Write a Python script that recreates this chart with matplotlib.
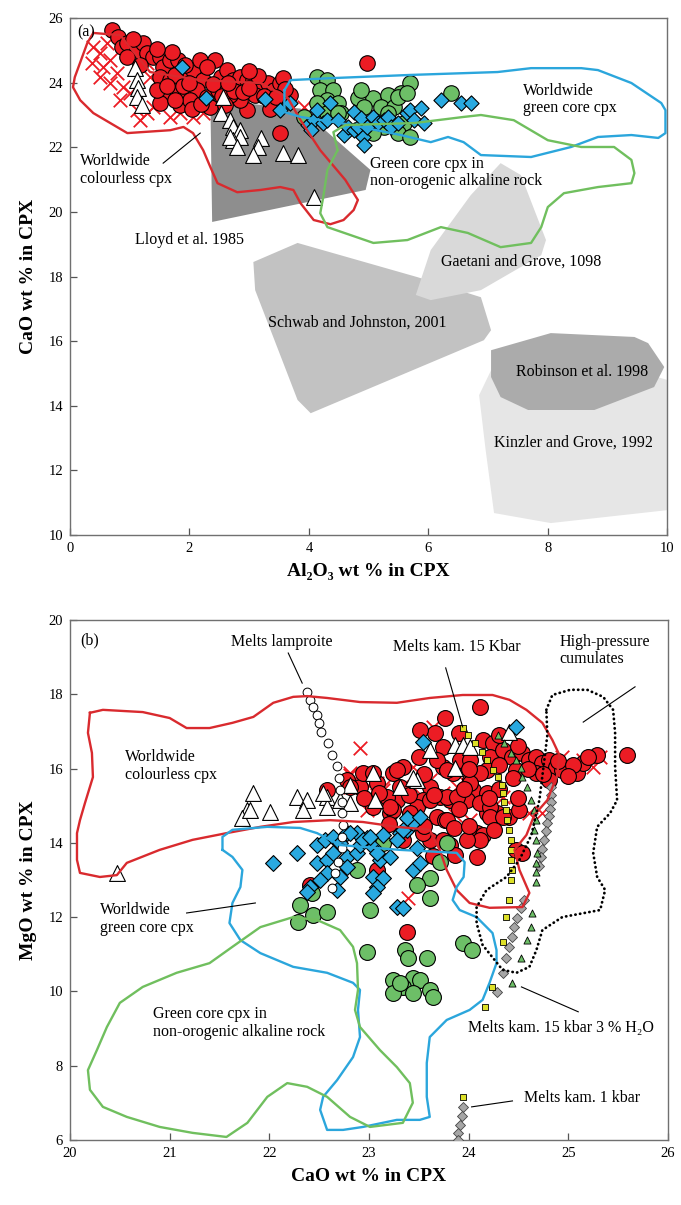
import matplotlib
matplotlib.use("Agg")
import matplotlib.pyplot as plt
import numpy as np

plt.rcParams['font.family'] = ['Liberation Serif', 'DejaVu Serif']
plt.rcParams['mathtext.fontset'] = 'stix'

# ---------------- Panel (a) data: Al2O3 (x) vs CaO (y) ----------------
a_red_x = [0.70,0.81,0.87,0.96,1.12,0.96,1.22,1.29,1.39,1.51,1.56,1.68,1.80,1.51,1.68,1.56,1.51,1.80,1.96,2.06,
           2.18,2.23,2.13,2.30,2.47,2.52,2.63,2.73,2.85,2.97,3.07,3.19,3.31,3.41,3.52,3.41,2.97,2.85,2.35,1.85,
           2.01,1.46,3.52,4.98,3.57,3.69,1.17,1.93,2.43,2.68,3.10,1.76,
           1.62,1.75,1.90,2.05,2.20,2.40,2.55,2.60,2.75,2.90,3.00,3.15,3.25,3.35,3.00,2.30,1.70,1.45,1.05,2.00,
           2.65,3.60,3.45]
a_red_y = [25.63,25.41,25.10,25.23,25.01,24.79,25.23,24.92,24.79,24.79,24.48,24.70,24.70,24.17,24.08,23.55,23.37,23.68,24.17,24.39,
           24.70,24.08,23.77,23.55,23.77,24.17,24.39,24.08,24.17,24.08,24.08,23.86,23.99,23.77,23.99,23.37,23.15,23.46,23.25,23.31,
           23.46,23.77,22.44,24.61,24.14,23.62,24.55,24.55,24.70,23.62,23.62,24.23,
           23.90,23.45,23.90,23.20,23.35,23.95,23.60,23.30,23.75,23.70,23.85,24.20,23.60,23.20,24.35,24.50,24.95,25.05,25.35,24.00,
           24.00,23.80,23.55]

a_cross_x = [0.39,0.50,0.37,0.55,0.67,0.79,0.50,0.67,0.89,1.01,0.84,1.12,1.29,1.39,1.17,1.68,1.85,2.06,2.23,3.91,
             2.97,1.29,1.34,0.62]
a_cross_y = [25.10,24.92,24.61,24.48,24.70,24.30,24.17,23.99,23.86,23.68,23.46,23.15,23.06,23.25,22.84,22.94,23.06,22.94,23.06,23.25,
             23.37,24.61,24.17,25.23]

a_tri_x = [1.09,1.12,1.14,1.12,1.21,2.57,2.52,2.68,2.73,2.85,2.85,2.73,2.68,2.80,3.19,3.15,3.07,3.57,3.81,4.08]
a_tri_y = [24.45,24.08,23.83,23.55,23.31,23.55,23.06,22.84,22.63,22.53,22.32,22.22,22.32,22.01,22.29,22.01,21.76,21.82,21.76,20.46]

a_dia_x = [1.88,2.27,3.27,3.69,3.52,3.98,4.08,4.14,4.24,4.03,4.31,4.48,4.58,4.65,4.75,4.75,4.82,4.87,4.90,4.92,
           4.98,5.08,5.15,5.25,5.32,5.37,5.49,5.65,5.70,5.76,5.87,5.92,6.21,6.54,6.71,4.36]
a_dia_y = [24.48,23.52,23.49,23.37,23.15,22.69,22.84,23.15,22.75,22.53,22.84,22.84,22.38,22.63,23.09,22.53,22.63,22.91,22.32,22.07,
           22.63,22.94,22.75,22.84,22.94,22.63,22.75,23.06,23.15,22.84,23.21,22.75,23.46,23.37,23.37,23.37]

a_grn_x = [4.14,4.31,4.19,4.41,4.31,4.14,4.48,4.31,4.53,3.91,4.82,5.08,5.32,5.20,5.42,5.70,5.54,4.92,5.49,5.65,
           5.32,5.59,5.25,5.49,5.70,5.08,6.38,4.48,4.87]
a_grn_y = [24.17,24.08,23.77,23.77,23.46,23.37,23.37,23.06,23.06,22.94,23.52,23.52,23.62,23.25,23.25,23.99,23.68,23.25,23.55,23.68,
           23.06,22.75,22.63,22.44,22.32,22.44,23.68,23.06,23.77]

# experimental fields (panel a)
lloyd_x = [2.35,3.86,5.03,4.95,2.38]
lloyd_y = [23.46,23.20,21.30,20.68,19.69]
gaetani_x = [5.79,6.04,6.71,7.21,7.55,7.97,7.89,6.88,6.04]
gaetani_y = [17.43,18.82,20.52,21.51,21.14,19.13,18.66,17.58,17.27]
schwab_x = [3.07,3.81,5.82,6.88,7.05,6.93,4.03,3.81,3.10]
schwab_y = [18.45,19.04,17.98,17.36,16.34,16.03,13.77,14.18,17.58]
kinzler_x = [6.85,7.05,8.89,10.0,10.0,8.05,7.10,6.96]
kinzler_y = [14.33,15.10,15.40,14.80,10.77,10.37,10.68,12.62]
robinson_x = [7.05,8.05,9.45,9.68,9.95,9.78,8.78,7.67,7.21,7.05]
robinson_y = [15.72,16.25,16.13,15.94,15.20,14.58,13.87,13.87,14.27,14.89]

# outlines (panel a)
a_redline_x = [0.39,0.84,1.34,2.18,3.19,3.64,3.86,4.19,4.61,4.82,4.75,4.58,4.36,4.08,3.86,3.74,3.52,3.19,2.80,2.47,
               2.35,2.23,2.06,1.90,1.68,0.96,0.39,0.17,0.05,0.08,0.29]
a_redline_y = [25.54,25.47,24.33,24.08,23.99,23.55,22.84,21.91,20.99,20.37,20.06,19.75,19.62,19.75,20.27,20.68,20.77,20.68,20.61,20.89,
               21.39,21.91,22.44,22.63,22.53,22.44,23.06,23.46,23.86,24.17,25.23]
a_blueline_x = [3.59,3.69,4.36,5.70,7.16,7.72,8.56,8.84,9.40,9.90,9.97,9.97,9.85,9.40,8.84,8.39,7.72,6.88,6.59,6.33,
                6.04,5.54,4.53,3.86,3.59]
a_blueline_y = [23.77,24.08,24.14,24.24,24.33,24.45,24.45,24.39,23.99,23.37,23.15,22.44,22.29,22.38,22.32,22.01,21.70,21.76,22.16,22.32,
                22.16,22.38,22.75,22.94,23.09]
a_greenline_x = [4.48,4.41,4.61,5.76,6.59,6.88,7.43,8.00,8.56,9.11,9.40,9.45,9.40,8.84,8.27,8.00,7.89,7.72,7.21,6.66,
                 6.21,5.65,5.08,4.31,4.19,4.24,4.31]
a_greenline_y = [21.91,22.47,22.69,22.75,22.94,23.00,22.84,22.22,22.01,22.01,21.61,21.20,20.89,20.77,20.58,20.15,19.53,19.04,18.91,19.35,
                 19.53,19.13,19.04,19.53,19.96,20.46,21.30]

# ---------------- Panel (b) data: CaO (x) vs MgO (y) ----------------
b_red_x = [24.11,23.76,23.66,23.51,23.74,24.14,24.24,24.21,24.34,24.44,24.54,24.61,24.68,24.74,24.81,24.88,24.94,25.09,25.15,25.29,
           25.59,24.18,24.48,24.68,24.81,23.74,23.84,24.01,24.04,24.18,24.18,24.28,24.41,24.51,23.98,23.81,23.71,23.61,23.54,23.48,
           23.28,23.31,23.24,23.21,23.44,23.68,23.76,23.61,23.54,24.08,24.14,24.48,24.54,24.08,23.74,23.81,23.34,23.04,23.08,22.78,
           22.91,22.94,23.68,23.78,23.91,24.01,24.11,24.01,23.78,23.88,24.11,24.21,23.61,23.78,23.41,23.24,23.18,24.21,24.34,24.11,
           23.98,23.38,23.04,23.28,22.58,22.81,23.21,23.08,23.34,22.41,23.64,23.86,
           24.30,24.60,24.90,25.05,24.75,24.45,24.00,23.55,23.95,23.65,23.40,23.10,24.30,24.50,24.20,23.90,23.55,23.85,24.00,24.25,
           23.20,22.95,23.50,24.50,24.30,23.90,25.20,25.00]
b_red_y = [17.66,17.36,16.96,17.04,16.58,16.77,16.69,16.31,16.50,16.31,16.42,16.23,16.31,16.15,16.23,16.04,15.96,15.88,16.15,16.37,
           16.37,15.96,15.96,15.88,15.69,16.04,15.88,15.69,15.42,15.34,14.80,14.80,14.70,14.88,15.15,15.15,15.23,15.50,15.15,14.96,
           15.15,15.50,15.88,14.80,14.61,14.70,14.61,14.08,14.26,14.26,14.21,13.81,13.73,13.62,14.08,13.94,16.04,14.96,15.61,15.69,
           15.50,15.88,16.23,15.96,16.23,16.23,15.88,15.61,15.23,15.23,15.07,14.96,15.15,14.61,14.80,14.88,15.23,14.70,14.70,14.08,
           14.08,11.60,15.88,15.96,15.42,15.50,14.96,13.27,14.08,12.86,13.65,13.67,
           16.10,16.00,16.20,16.10,15.85,15.75,16.00,15.85,15.45,15.30,15.30,15.35,15.45,15.20,15.20,14.90,14.45,14.40,14.45,14.35,
           14.50,15.20,16.30,16.60,16.90,16.95,16.30,15.80]

b_cross_x = [22.91,23.64,24.94,25.15,25.25,25.32,25.02,24.84,24.61,23.94,23.88,24.01,23.74,23.61,23.44,23.34,23.14,23.21,23.28,23.08,
             22.94,22.81,22.81,24.74,24.61,24.48,23.44,24.34,23.91,22.81,23.08,23.14,23.24,22.98,23.39,24.01,23.86]
b_cross_y = [16.55,17.12,16.31,16.23,16.04,16.31,16.04,16.04,15.96,15.69,15.50,15.88,15.34,15.69,15.50,15.34,15.50,15.23,14.96,15.15,
             15.69,15.88,15.50,14.80,14.80,14.96,16.04,15.23,16.31,15.83,15.61,15.42,15.23,14.88,12.51,14.61,14.75]

b_tri_x = [21.84,21.78,21.73,22.01,22.28,22.38,22.34,22.58,22.58,22.54,22.81,22.71,22.81,23.04,23.31,23.06,20.47,23.61,23.86,23.94,
           24.01,24.41,23.86,23.48,23.44,21.81]
b_tri_y = [15.34,14.88,14.67,14.83,15.23,15.15,14.88,15.23,14.96,15.34,15.56,15.15,15.07,15.88,15.50,15.15,13.19,16.50,16.63,16.63,
           16.58,16.98,16.02,15.69,15.75,14.88]

b_dia_x = [22.04,22.28,22.48,22.56,22.64,22.78,22.88,22.98,22.48,22.58,22.64,22.78,22.88,22.91,23.04,23.14,23.31,23.38,23.44,23.11,
           23.21,22.78,22.71,22.58,22.51,22.41,22.38,22.68,23.04,23.14,23.08,23.04,23.44,23.51,23.28,23.34,23.54,24.48,23.38,23.51,
           23.34,23.28,23.48,22.94,22.81,22.71,23.08,23.01]
b_dia_y = [13.46,13.73,13.94,14.08,14.16,14.26,14.26,14.13,13.46,13.54,13.73,13.62,13.73,13.94,13.89,14.21,14.26,14.35,14.53,13.54,
           13.62,13.35,13.08,13.19,13.00,12.81,12.68,12.73,13.08,13.05,12.81,12.65,13.27,13.46,12.27,12.25,16.72,17.12,14.67,14.70,
           14.35,14.08,13.86,14.08,14.26,14.00,13.73,14.16]

b_grn_x = [22.88,23.14,23.71,23.61,23.48,23.61,22.43,22.31,22.44,22.58,22.29,23.01,22.98,23.36,23.39,23.58,23.24,23.44,23.51,23.61,
           23.34,23.24,23.44,23.64,23.94,24.03,23.78,23.31]
b_grn_y = [13.27,14.00,13.48,13.05,12.86,12.51,12.65,12.33,12.06,12.14,11.87,12.19,11.06,11.11,10.90,10.90,10.31,10.36,10.31,10.04,
           10.12,9.96,9.96,9.85,11.30,11.11,14.00,10.23]

# MELTS model paths (panel b)
lamp_x = [22.38,22.41,22.44,22.48,22.50,22.52,22.59,22.63,22.68,22.70,22.71,22.73,22.73,22.74,22.73,22.73,22.69,22.66,22.63]
lamp_y = [18.06,17.85,17.66,17.44,17.23,16.98,16.69,16.37,16.07,15.75,15.42,15.10,14.80,14.48,14.16,13.86,13.48,13.19,12.78]
kam15_x = [23.94,23.99,24.06,24.13,24.18,24.24,24.29,24.33,24.34,24.36,24.38,24.39,24.41,24.43,24.43,24.43,24.44,24.43,24.41,24.38,
           24.34,24.23,24.16]
kam15_y = [17.09,16.90,16.69,16.45,16.23,15.96,15.77,15.56,15.34,15.10,14.88,14.61,14.35,14.08,13.81,13.54,13.27,13.00,12.46,12.00,
           11.33,10.12,9.58]
kamh2o_x = [24.29,24.36,24.43,24.48,24.53,24.54,24.59,24.63,24.66,24.68,24.66,24.68,24.69,24.68,24.68,24.68,24.64,24.63,24.59,24.53,24.44]
kamh2o_y = [16.90,16.69,16.42,16.23,16.02,15.77,15.50,15.15,14.88,14.61,14.35,14.08,13.73,13.46,13.21,12.95,12.11,11.73,11.38,10.90,10.23]
kamgray_x = [24.83,24.83,24.83,24.82,24.81,24.79,24.78,24.76,24.74,24.73,24.71,24.56,24.53,24.49,24.46,24.44,24.41,24.38,24.34,24.28]
kamgray_y = [15.50,15.29,15.10,14.91,14.72,14.53,14.32,14.08,13.83,13.62,13.38,12.46,12.25,11.98,11.73,11.46,11.20,10.90,10.50,9.98]
kam1_sq_x = [23.94]
kam1_sq_y = [7.16]
kam1_gray_x = [23.94,23.93,23.91,23.89,23.89]
kam1_gray_y = [6.89,6.65,6.40,6.19,6.00]

# outlines (panel b)
b_redline_x = [20.20,20.33,20.73,21.00,21.17,21.40,21.63,21.84,22.04,22.24,22.38,22.58,22.91,23.28,23.61,23.94,24.24,24.41,24.58,24.74,
               24.84,24.91,24.89,24.79,24.66,24.58,24.46,24.51,24.61,24.54,24.21,24.01,23.88,23.78,23.71,23.61,23.28,22.94,22.61,22.24,
               21.91,21.57,21.23,20.90,20.57,20.47,20.30,20.10,20.07,20.07,20.10,20.15,20.23,20.22,20.18]
b_redline_y = [17.50,17.58,17.52,17.36,17.09,17.09,17.23,17.39,17.77,17.93,17.95,17.90,17.79,17.77,17.90,17.98,17.98,17.85,17.58,17.23,
               16.77,16.37,15.83,15.15,14.75,14.21,13.81,13.27,12.65,12.27,12.25,12.38,12.73,13.27,13.81,14.35,14.43,14.56,14.61,14.56,
               14.43,14.26,14.08,13.81,13.46,13.13,13.08,13.19,13.54,14.26,14.61,15.07,15.77,16.42,16.96]
b_blueline_x = [21.53,21.53,21.63,21.98,22.31,22.48,22.71,23.31,23.88,23.96,23.95,23.88,23.84,23.91,24.08,24.24,24.28,24.28,24.21,24.14,
                24.01,23.78,23.61,23.58,23.58,23.61,23.51,23.28,22.94,22.74,22.58,22.51,22.54,22.68,22.84,22.91,22.89,22.91,22.84,22.58,
                22.24,21.91,21.71,21.60,21.63,21.71,21.73,21.63]
b_blueline_y = [13.81,14.16,14.35,14.43,14.40,14.26,13.94,13.81,13.73,13.48,13.08,12.81,12.46,12.19,12.00,11.57,11.11,10.76,10.23,9.77,
                9.50,9.23,8.77,8.07,7.16,6.62,6.54,6.54,6.35,6.27,6.27,6.81,7.16,7.61,8.23,8.77,9.50,10.04,10.23,10.50,
                10.66,11.03,11.38,11.84,12.38,12.81,13.27,13.62]
b_greenline_x = [22.24,22.48,22.71,22.84,22.88,22.89,22.86,22.91,23.11,23.28,23.41,23.44,23.34,23.01,22.81,22.58,22.38,22.18,21.98,21.78,
                 21.57,21.23,20.90,20.57,20.33,20.20,20.18,20.27,20.37,20.50,20.73,21.07,21.40,21.63,21.91]
b_greenline_y = [12.00,11.92,11.65,11.20,10.76,10.04,9.50,9.04,8.42,7.96,7.53,7.00,6.46,6.35,6.62,7.16,7.43,7.53,7.16,6.46,
                 6.08,6.19,6.35,6.62,6.89,7.35,7.88,8.42,9.04,9.69,10.12,10.50,10.76,11.20,11.73]
hp_x = [24.78,24.84,25.02,25.19,25.35,25.45,25.47,25.47,25.49,25.42,25.29,25.25,25.29,25.37,25.32,24.94,24.74,24.68,24.61,24.48,
        24.34,24.14,24.08,24.08,24.18,24.38,24.51,24.63,24.71,24.76,24.79]
hp_y = [17.58,17.98,18.12,18.12,17.93,17.58,16.96,16.04,15.15,14.80,14.43,13.73,13.08,12.73,12.19,12.00,11.65,11.11,10.66,10.50,
        10.58,11.25,11.84,12.27,12.73,13.08,13.54,14.21,15.15,16.23,16.90]

# ---------------- styles ----------------
RED = '#ec1c24'
BLUE = '#29a9e0'
GREEN = '#6dbf67'
RED_L = '#d92a2e'
BLUE_L = '#2ba6dc'
GREEN_L = '#70bf5e'
EDGE_LW = 0.8

fig = plt.figure(figsize=(6.81, 12.05), dpi=100)
ax1 = fig.add_axes([0.1028, 0.556, 0.877, 0.429])
ax2 = fig.add_axes([0.1028, 0.054, 0.878, 0.4315])


def closed(x, y):
    return list(x) + [x[0]], list(y) + [y[0]]


def style_axes(ax):
    for s in ax.spines.values():
        s.set_color('#707070')
        s.set_linewidth(1.0)
    ax.tick_params(direction='in', length=5, width=0.9, color='#555555',
                   labelsize=10.5, pad=5)


# ---------- Panel (a) ----------
ax1.fill(kinzler_x, kinzler_y, color='#e6e6e6', lw=0, zorder=1)
ax1.fill(robinson_x, robinson_y, color='#ababab', lw=0, zorder=1.1)
ax1.fill(schwab_x, schwab_y, color='#c2c2c2', lw=0, zorder=1)
ax1.fill(gaetani_x, gaetani_y, color='#d9d9d9', lw=0, zorder=1)
ax1.fill(lloyd_x, lloyd_y, color='#8e8e8e', lw=0, zorder=1)

ax1.scatter(a_cross_x, a_cross_y, marker='x', s=95, color=RED, linewidths=1.3, zorder=3)
ax1.scatter(a_red_x, a_red_y, marker='o', s=125, facecolor=RED, edgecolor='black', linewidths=EDGE_LW, zorder=3)
ax1.scatter(a_grn_x, a_grn_y, marker='o', s=125, facecolor=GREEN, edgecolor='black', linewidths=EDGE_LW, zorder=3.1)
ax1.scatter(a_tri_x, a_tri_y, marker='^', s=130, facecolor='white', edgecolor='black', linewidths=EDGE_LW, zorder=3.2)
ax1.scatter(a_dia_x, a_dia_y, marker='D', s=60, facecolor=BLUE, edgecolor='black', linewidths=EDGE_LW, zorder=3.3)

for xs, ys, c in [(a_redline_x, a_redline_y, RED_L), (a_blueline_x, a_blueline_y, BLUE_L),
                  (a_greenline_x, a_greenline_y, GREEN_L)]:
    cx, cy = closed(xs, ys)
    ax1.plot(cx, cy, color=c, lw=1.7, zorder=4, solid_joinstyle='round')

TFS = 11.5
ax1.text(0.12, 25.57, '(a)', fontsize=TFS, va='center', ha='left', zorder=6)
ax1.text(0.17, 21.3, 'Worldwide\ncolourless cpx', fontsize=TFS, va='center', ha='left', linespacing=1.1, zorder=6)
ax1.plot([1.56, 2.18], [21.51, 22.44], color='black', lw=0.8, zorder=5)
ax1.text(2.0, 19.13, 'Lloyd et al. 1985', fontsize=TFS, va='center', ha='center', zorder=6)
ax1.text(7.58, 23.49, 'Worldwide\ngreen core cpx', fontsize=TFS, va='center', ha='left', linespacing=1.1, zorder=6)
ax1.text(5.02, 21.23, 'Green core cpx in\nnon-orogenic alkaline rock', fontsize=TFS, va='center', ha='left',
         linespacing=1.1, zorder=6)
ax1.text(6.21, 18.45, 'Gaetani and Grove, 1098', fontsize=TFS, va='center', ha='left', zorder=6)
ax1.text(3.32, 16.56, 'Schwab and Johnston, 2001', fontsize=TFS, va='center', ha='left', zorder=6)
ax1.text(7.47, 15.04, 'Robinson et al. 1998', fontsize=TFS, va='center', ha='left', zorder=6)
ax1.text(7.10, 12.85, 'Kinzler and Grove, 1992', fontsize=TFS, va='center', ha='left', zorder=6)

ax1.set_xlim(0, 10)
ax1.set_ylim(10, 26)
ax1.set_xticks(np.arange(0, 11, 2))
ax1.set_yticks(np.arange(10, 27, 2))
style_axes(ax1)
ax1.set_xlabel('Al\u2082O\u2083 wt % in CPX', fontsize=14, fontweight='bold', labelpad=6)
ax1.set_ylabel('CaO wt % in CPX', fontsize=14, fontweight='bold', labelpad=8)

# ---------- Panel (b) ----------
ax2.scatter(b_cross_x, b_cross_y, marker='x', s=95, color=RED, linewidths=1.3, zorder=3)
ax2.scatter(b_red_x, b_red_y, marker='o', s=130, facecolor=RED, edgecolor='black', linewidths=EDGE_LW, zorder=3)
ax2.scatter(b_grn_x, b_grn_y, marker='o', s=130, facecolor=GREEN, edgecolor='black', linewidths=EDGE_LW, zorder=3.1)
ax2.scatter(b_tri_x, b_tri_y, marker='^', s=130, facecolor='white', edgecolor='black', linewidths=EDGE_LW, zorder=3.2)
ax2.scatter(b_dia_x, b_dia_y, marker='D', s=65, facecolor=BLUE, edgecolor='black', linewidths=EDGE_LW, zorder=3.3)

ax2.scatter(lamp_x, lamp_y, marker='o', s=40, facecolor='white', edgecolor='black', linewidths=0.7, zorder=3.5)
ax2.scatter(kamgray_x, kamgray_y, marker='D', s=26, facecolor='#a6a6a6', edgecolor='#444444', linewidths=0.6, zorder=3.5)
ax2.scatter(kam1_gray_x, kam1_gray_y, marker='D', s=26, facecolor='#a6a6a6', edgecolor='#444444', linewidths=0.6, zorder=3.5)
ax2.scatter(kamh2o_x, kamh2o_y, marker='^', s=26, facecolor=GREEN, edgecolor='black', linewidths=0.6, zorder=3.5)
ax2.scatter(kam15_x, kam15_y, marker='s', s=24, facecolor='#dde028', edgecolor='black', linewidths=0.6, zorder=3.6)
ax2.scatter(kam1_sq_x, kam1_sq_y, marker='s', s=24, facecolor='#dde028', edgecolor='black', linewidths=0.6, zorder=3.6)

for xs, ys, c in [(b_redline_x, b_redline_y, RED_L), (b_blueline_x, b_blueline_y, BLUE_L),
                  (b_greenline_x, b_greenline_y, GREEN_L)]:
    cx, cy = closed(xs, ys)
    ax2.plot(cx, cy, color=c, lw=1.7, zorder=4, solid_joinstyle='round')
hx, hy = closed(hp_x, hp_y)
ax2.plot(hx, hy, color='black', lw=2.0, linestyle=(0, (0.1, 1.6)), dash_capstyle='round', zorder=4)

ax2.text(20.10, 19.46, '(b)', fontsize=TFS, va='center', ha='left', zorder=6)
ax2.text(21.62, 19.41, 'Melts lamproite', fontsize=TFS, va='center', ha='left', zorder=6)
ax2.plot([22.19, 22.33], [19.11, 18.30], color='black', lw=0.8, zorder=5)
ax2.text(23.24, 19.27, 'Melts kam. 15 Kbar', fontsize=TFS, va='center', ha='left', zorder=6)
ax2.plot([23.77, 23.94], [18.71, 17.12], color='black', lw=0.8, zorder=5)
ax2.text(24.91, 19.17, 'High-pressure\ncumulates', fontsize=TFS, va='center', ha='left', linespacing=1.1, zorder=6)
ax2.plot([25.67, 25.15], [18.20, 17.25], color='black', lw=0.8, zorder=5)
ax2.text(20.55, 16.07, 'Worldwide\ncolourless cpx', fontsize=TFS, va='center', ha='left', linespacing=1.1, zorder=6)
ax2.text(20.30, 11.95, 'Worldwide\ngreen core cpx', fontsize=TFS, va='center', ha='left', linespacing=1.1, zorder=6)
ax2.plot([21.17, 21.86], [12.11, 12.38], color='black', lw=0.8, zorder=5)
ax2.text(20.83, 9.15, 'Green core cpx in\nnon-orogenic alkaline rock', fontsize=TFS, va='center', ha='left',
         linespacing=1.1, zorder=6)
ax2.text(23.99, 9.01, 'Melts kam. 15 kbar 3 % H\u2082O', fontsize=TFS, va='center', ha='left', zorder=6)
ax2.plot([25.10, 24.53], [9.45, 10.12], color='black', lw=0.8, zorder=5)
ax2.text(24.56, 7.13, 'Melts kam. 1 kbar', fontsize=TFS, va='center', ha='left', zorder=6)
ax2.plot([24.44, 24.03], [7.05, 6.89], color='black', lw=0.8, zorder=5)

ax2.set_xlim(20, 26)
ax2.set_ylim(6, 20)
ax2.set_xticks(np.arange(20, 27, 1))
ax2.set_yticks(np.arange(6, 21, 2))
style_axes(ax2)
ax2.set_xlabel('CaO wt % in CPX', fontsize=14, fontweight='bold', labelpad=6)
ax2.set_ylabel('MgO wt % in CPX', fontsize=14, fontweight='bold', labelpad=8)

fig.savefig('out.png', dpi=100)
